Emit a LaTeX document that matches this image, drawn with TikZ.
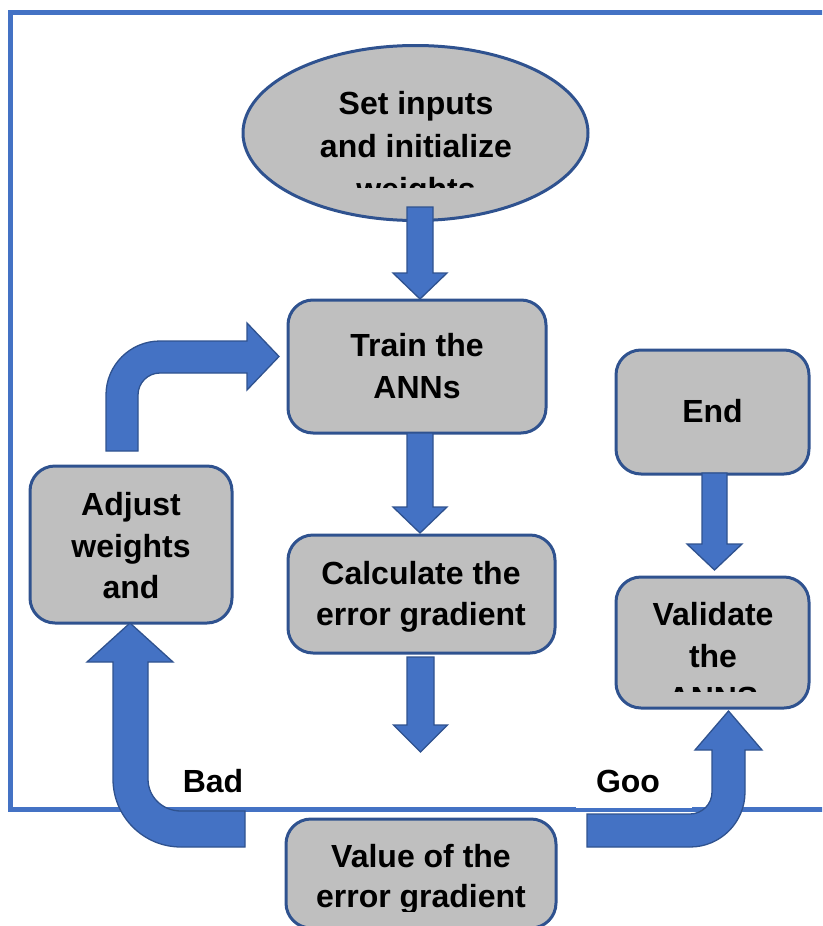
\documentclass[tikz,border=0pt]{standalone}
\usepackage{fontspec}
\setmainfont{Liberation Sans}
\usetikzlibrary{shapes.geometric}
\definecolor{boxfill}{HTML}{BFBFBF}
\definecolor{boxline}{HTML}{2F528F}
\definecolor{arrowfill}{HTML}{4472C4}
\newcommand{\downblock}[6]{%
  \draw[blockarrow] ({#1-#5},#2) -- ({#1+#5},#2) -- ({#1+#5},#3) -- ({#1+#6},#3)
    -- (#1,#4) -- ({#1-#6},#3) -- ({#1-#5},#3) -- cycle;}
\begin{document}
\begin{tikzpicture}[x=1pt,y=-1pt,
  box/.style={draw=boxline, fill=boxfill, line width=3pt, rounded corners=25pt, inner sep=0pt},
  ell/.style={draw=boxline, fill=boxfill, line width=3pt, ellipse, inner sep=0pt},
  txt/.style={font=\fontsize{32}{44}\selectfont\bfseries, anchor=base, inner sep=0pt, text=black},
  blockarrow/.style={fill=arrowfill, draw=boxline, line width=1.3pt, line join=miter},
  frameline/.style={draw=arrowfill, line width=5pt}]
\useasboundingbox (0,0) rectangle (822,926);
\clip (0,0) rectangle (822,926);
% outer frame
\draw[frameline] (850,12) -- (10.5,12) -- (10.5,809) -- (850,809);
% labels on white
\fill[white] (160,752) rectangle (265,807);
\fill[white] (576,752) rectangle (692,807.5);
\node[txt] (bad) at (213,792) {Bad};
\node[txt] (good) at (628,792) {Goo};
% shapes
\node[ell, minimum width=345pt, minimum height=175pt] (init) at (415.5,133) {};
\node[box, minimum width=258pt, minimum height=133pt] (train) at (417,366.5) {};
\node[box, minimum width=267pt, minimum height=118pt] (calc) at (421.5,594) {};
\node[box, minimum width=270pt, minimum height=109pt] (value) at (421,873.5) {};
\node[box, minimum width=202pt, minimum height=157pt] (adjust) at (131,544.5) {};
\node[box, minimum width=193pt, minimum height=124pt] (end) at (712.5,412) {};
\node[box, minimum width=193pt, minimum height=131pt] (validate) at (712.5,642.5) {};
% texts
\begin{scope}
\clip (200,40) rectangle (640,187);
\node[txt] (init1) at (416,114) {Set inputs};
\node[txt] (init2) at (416,157) {and initialize};
\node[txt] (init3) at (416,200) {weights};
\end{scope}
\node[txt] (train1) at (417,356) {Train the};
\node[txt] (train2) at (417,398) {ANNs};
\node[txt] (calc1) at (421,584) {Calculate the};
\node[txt] (calc2) at (421,625) {error gradient};
\begin{scope}
\clip (280,830) rectangle (560,911);
\node[txt] (value1) at (421,867) {Value of the};
\node[txt] (value2) at (421,907) {error gradient};
\end{scope}
\node[txt] (adj1) at (131,515) {Adjust};
\node[txt] (adj2) at (131,557) {weights};
\node[txt] (adj3) at (131,598) {and};
\node[txt] (end1) at (712.5,422) {End};
\begin{scope}
\clip (610,590) rectangle (815,691);
\node[txt] (val1) at (713,625) {Validate};
\node[txt] (val2) at (713,667) {the};
\node[txt] (val3) at (713,709) {ANNS};
\end{scope}
% straight block arrows
\downblock{420}{207}{273}{299}{13}{27}
\downblock{420}{433}{507}{533}{13}{27}
\downblock{420.5}{657}{725}{752}{13.5}{27}
\downblock{714.5}{473}{544}{570}{12.5}{27.5}
% bent arrow: Adjust -> Train
\draw[blockarrow] (106,451) -- (106,395) .. controls (106,365.2) and (130.2,341) .. (160,341)
  -- (247,341) -- (247,323) -- (279,356.5) -- (247,390) -- (247,373) -- (160,373)
  .. controls (147.85,373) and (138,382.85) .. (138,395) -- (138,451) -- cycle;
% U arrow: Value -> Adjust (Bad)
\draw[blockarrow] (245,811) -- (181,811) .. controls (162.8,811) and (148,797.2) .. (148,779)
  -- (148,662) -- (173,662) -- (130,623) -- (87,662) -- (113,662) -- (113,779)
  .. controls (113,816.6) and (143.4,847) .. (181,847) -- (245,847) -- cycle;
% U arrow: Value -> Validate (Good)
\draw[blockarrow] (587,814) -- (690,814) .. controls (702.15,814) and (712,804.15) .. (712,792)
  -- (712,750) -- (695,750) -- (728.5,711) -- (762,750) -- (745,750) -- (745,792)
  .. controls (745,822.4) and (720.4,847) .. (690,847) -- (587,847) -- cycle;
\end{tikzpicture}
\end{document}
